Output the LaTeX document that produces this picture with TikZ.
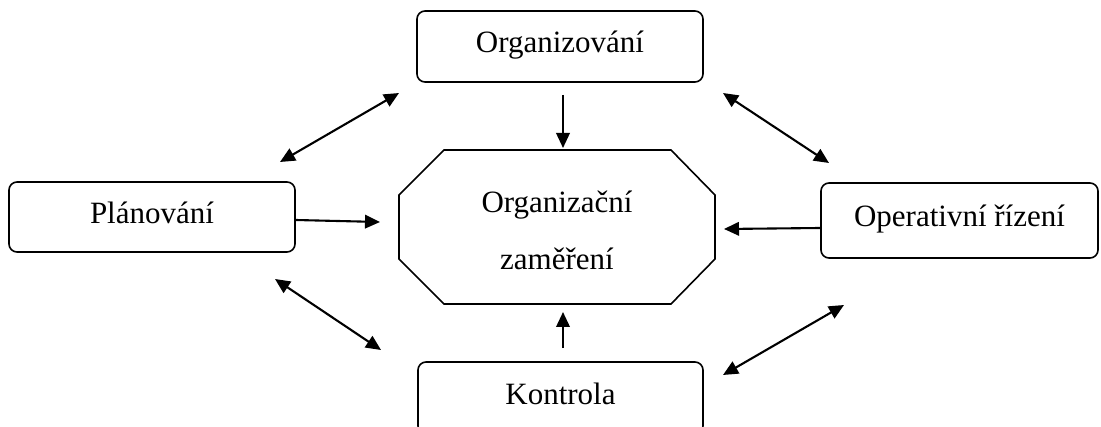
\documentclass[tikz,border=0pt]{standalone}
\usepackage{fontspec}
\setmainfont{Liberation Serif}
\usetikzlibrary{arrows.meta,calc}
\begin{document}
\begin{tikzpicture}[x=1pt,y=-1pt,
  box/.style={draw, rounded corners=8pt, line width=1.6pt, inner sep=0pt,
    font=\fontsize{31}{36}\selectfont, text height=20.5pt, text depth=8pt},
  tip/.tip={Triangle[length=15pt,width=13.5pt]},
  arr/.style={line width=2.1pt, -tip},
  darr/.style={line width=2.1pt, tip-tip},
  octa/.style={draw, line width=1.6pt}]
\useasboundingbox (0,0) rectangle (1101,427);
\clip (0,0) rectangle (1101,427);
% boxes
\node[box, minimum width=286pt, minimum height=71pt] (org) at (560,46.5) {Organizování};
\node[box, minimum width=286pt, minimum height=70pt] (plan) at (152,217) {Plánování};
\node[box, minimum width=277pt, minimum height=75pt] (oper) at (959.5,220.5) {Operativní řízení};
\node[box, minimum width=285pt, minimum height=72pt] (kon) at (560.5,398) {Kontrola};
% octagon
\coordinate (o1) at (444,150); \coordinate (o2) at (671,150);
\coordinate (o3) at (715,195); \coordinate (o4) at (715,259);
\coordinate (o5) at (671,304); \coordinate (o6) at (444,304);
\coordinate (o7) at (399,259); \coordinate (o8) at (399,195);
\draw[octa] (o1) -- (o2) -- (o3) -- (o4) -- (o5) -- (o6) -- (o7) -- (o8) -- cycle;
\node[align=center, inner sep=0pt, font=\fontsize{31}{57}\selectfont] (oz) at (557,230) {Organizační\\zaměření};
% arrow end points
\coordinate (eT) at (563,148);
\coordinate (eL) at (380,222);
\coordinate (eR) at (724,229);
\coordinate (eB) at (563,312);
\coordinate (tl1) at (280,162); \coordinate (tl2) at (399,93);
\coordinate (tr1) at (723,93);  \coordinate (tr2) at (829,163);
\coordinate (bl1) at (275,279); \coordinate (bl2) at (381,350);
\coordinate (br1) at (844,305); \coordinate (br2) at (723,375);
% arrows
\draw[arr] ($(org.south)+(3,12)$) -- (eT);
\draw[arr] ($(plan.east)+(0,3)$) -- (eL);
\draw[arr] ($(oper.west)+(0,7.5)$) -- (eR);
\draw[arr] ($(kon.north)+(2.5,-13)$) -- (eB);
\draw[darr] (tl1) -- (tl2);
\draw[darr] (tr1) -- (tr2);
\draw[darr] (bl1) -- (bl2);
\draw[darr] (br1) -- (br2);
\end{tikzpicture}
\end{document}
